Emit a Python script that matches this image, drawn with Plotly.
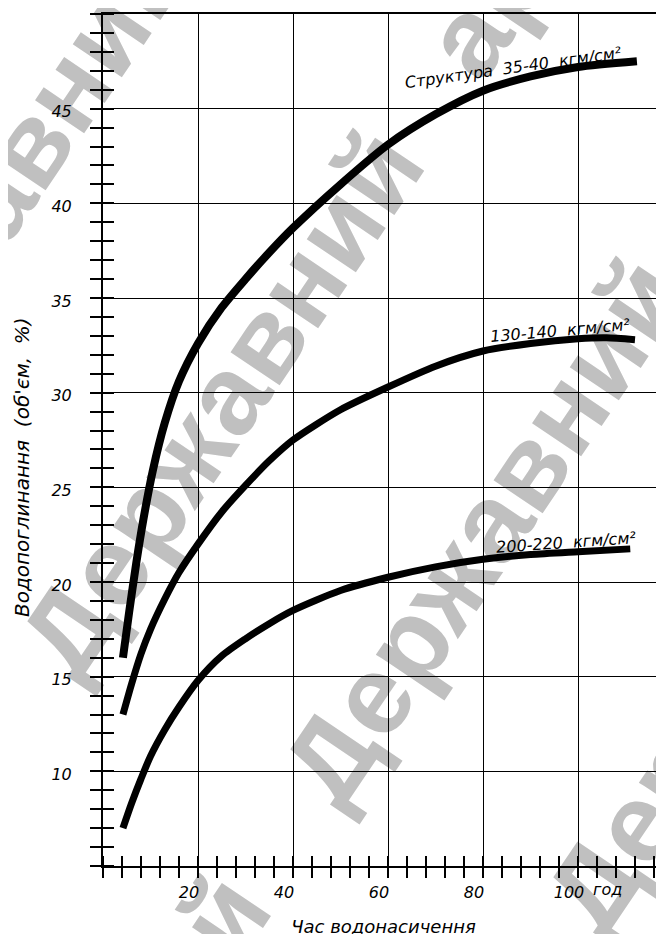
import math
import plotly.graph_objects as go

# ---------------- data ----------------
time_35 = [4.2, 5.5, 7.0, 8.5, 10.5, 13.0, 16.0, 20.0, 25.0, 30.0, 35.0, 40.0, 50.0, 60.0, 70.0, 80.0, 90.0, 100.0, 112.4]
absorb_35 = [16.0, 18.4, 21.0, 23.3, 25.9, 28.4, 30.6, 32.6, 34.5, 36.0, 37.4, 38.7, 41.0, 43.1, 44.7, 45.95, 46.7, 47.2, 47.5]

time_130 = [4.2, 6.0, 8.0, 10.0, 13.0, 16.0, 20.0, 25.0, 30.0, 35.0, 40.0, 50.0, 60.0, 70.0, 80.0, 90.0, 100.0, 106.0, 112.0]
absorb_130 = [13.0, 14.6, 16.2, 17.5, 19.1, 20.5, 22.0, 23.7, 25.1, 26.4, 27.5, 29.1, 30.3, 31.4, 32.2, 32.6, 32.85, 32.9, 32.8]

time_200 = [4.2, 6.0, 8.0, 10.0, 13.0, 16.0, 20.0, 25.0, 30.0, 35.0, 40.0, 50.0, 60.0, 70.0, 80.0, 90.0, 100.0, 111.0]
absorb_200 = [7.0, 8.3, 9.6, 10.8, 12.2, 13.4, 14.8, 16.1, 17.0, 17.8, 18.5, 19.55, 20.25, 20.8, 21.2, 21.45, 21.6, 21.75]

series_labels = ["Структура\u00a0 35-40\u00a0 кгм/см²", "130-140\u00a0 кгм/см²", "200-220\u00a0 кгм/см²"]
x_ticks = [20, 40, 60, 80, 100]
y_ticks = [10, 15, 20, 25, 30, 35, 40, 45]
x_title = "Час водонасичення"
y_title = "Водопоглинання\u00a0 (об'єм,\u00a0 %)"
x_unit = "год"

# ---------------- layout constants ----------------
W, H = 664, 934
OFF = 8                      # page body margin of the html page
L, R, T, B = 103 - OFF, OFF, 14 - OFF, 934 - (866 - OFF)
X_RANGE = [0, (W - L - R) / 4.75]
Y_RANGE = [5, 50]
PW, PH = W - L - R, H - T - B

FONT = dict(family="DejaVu Sans", size=16, color="black", style="italic")


def to_paper(px, py):
    # px, py are page pixel positions (reference image coordinates)
    return (px - OFF - L) / PW, (H - B - (py - OFF)) / PH


fig = go.Figure()
for xs, ys, w in [(time_35, absorb_35, 8), (time_130, absorb_130, 7), (time_200, absorb_200, 7)]:
    fig.add_trace(go.Scatter(x=xs, y=ys, mode="lines",
                             line=dict(color="black", width=w, shape="spline", smoothing=0.7),
                             showlegend=False, hoverinfo="skip"))
# dummy trace to create overlay axes (inside half of crossing ticks)
fig.add_trace(go.Scatter(x=[None], y=[None], xaxis="x2", yaxis="y2",
                         showlegend=False, hoverinfo="skip"))

axis_common = dict(showline=True, linecolor="black", linewidth=2,
                   gridcolor="black", gridwidth=1.3, zeroline=False,
                   ticks="", tickfont=FONT, automargin=False)

fig.update_layout(
    width=W, height=H,
    margin=dict(l=L, r=R, t=T, b=B, pad=0),
    paper_bgcolor="white", plot_bgcolor="rgba(0,0,0,0)",
    xaxis=dict(range=X_RANGE, tickmode="array", tickvals=x_ticks, mirror=True,
               ticklabelshift=-9, ticklabelstandoff=11,
               minor=dict(tickmode="linear", dtick=4, tick0=0, ticks="outside", ticklen=10,
                          tickwidth=2, tickcolor="black", showgrid=False),
               title=dict(text=x_title, font=dict(FONT, size=18), standoff=19),
               **axis_common),
    yaxis=dict(range=Y_RANGE, tickmode="array", tickvals=y_ticks,
               ticklabelshift=3, ticklabelstandoff=26,
               minor=dict(tickmode="linear", dtick=1, tick0=0, ticks="outside", ticklen=11,
                          tickwidth=2, tickcolor="black", showgrid=False),
               **axis_common),
    xaxis2=dict(overlaying="x", anchor="y", side="bottom", range=X_RANGE,
                tickmode="array", tickvals=x_ticks + [0], showgrid=False, showline=False,
                zeroline=False, ticks="", showticklabels=False,
                minor=dict(tickmode="linear", dtick=4, tick0=0, ticks="inside", ticklen=10,
                           tickwidth=2, tickcolor="black", showgrid=False)),
    yaxis2=dict(overlaying="y", anchor="x", side="left", range=Y_RANGE,
                tickmode="array", tickvals=y_ticks + [5, 50], showgrid=False, showline=False,
                zeroline=False, ticks="", showticklabels=False,
                minor=dict(tickmode="linear", dtick=1, tick0=0, ticks="inside", ticklen=11,
                           tickwidth=2, tickcolor="black", showgrid=False)),
)

# y-axis title (placed as in the reference, below the centre of the axis)
tx, ty = to_paper(22, 467)
fig.add_annotation(x=tx, y=ty, xref="paper", yref="paper", text=y_title, showarrow=False,
                   textangle=-90, font=dict(FONT, size=20), xanchor="center", yanchor="middle")

# curve labels
label_pos = [(86.5, 47.15, -8), (96.3, 33.3, -5), (97.4, 22.1, -4)]
for text, (lx, ly, ang) in zip(series_labels, label_pos):
    fig.add_annotation(x=lx, y=ly, xref="x", yref="y", text=text, showarrow=False,
                       textangle=ang, font=dict(FONT, size=16),
                       xanchor="center", yanchor="middle")

# unit text next to the last tick label
fig.add_annotation(x=106.3, y=-0.028, xref="x", yref="paper", text=x_unit,
                   showarrow=False, font=FONT, xanchor="center", yanchor="middle")

# ---------------- watermark (drawn below the chart) ----------------
ANG = 56.0
ux, uy = math.cos(math.radians(ANG)), -math.sin(math.radians(ANG))
STEP = 75

wm_words = []
line_centres = [(-22, 202), (212, 397), (475, 525), (738, 653)]
for (cx, cy) in line_centres:
    wm_words.append(("Державний", cx, cy))
    wm_words.append(("архів", cx + 7.4 * STEP * ux, cy + 7.4 * STEP * uy))
    wm_words.append(("й", cx - 6.2 * STEP * ux, cy - 6.2 * STEP * uy))

for text, px, py in wm_words:
    x0, y0 = to_paper(px - ux, py - uy)
    x1, y1 = to_paper(px + ux, py + uy)
    fig.add_shape(type="line", xref="paper", yref="paper",
                  x0=x0, y0=y0, x1=x1, y1=y1, layer="below",
                  line=dict(color="rgba(0,0,0,0)", width=0),
                  label=dict(text=text, textangle=-ANG, textposition="middle",
                             xanchor="center", yanchor="middle", padding=0,
                             font=dict(family="Liberation Sans", size=112,
                                       color="#c0c0c0", weight="bold")))

fig.write_html("out.html")
